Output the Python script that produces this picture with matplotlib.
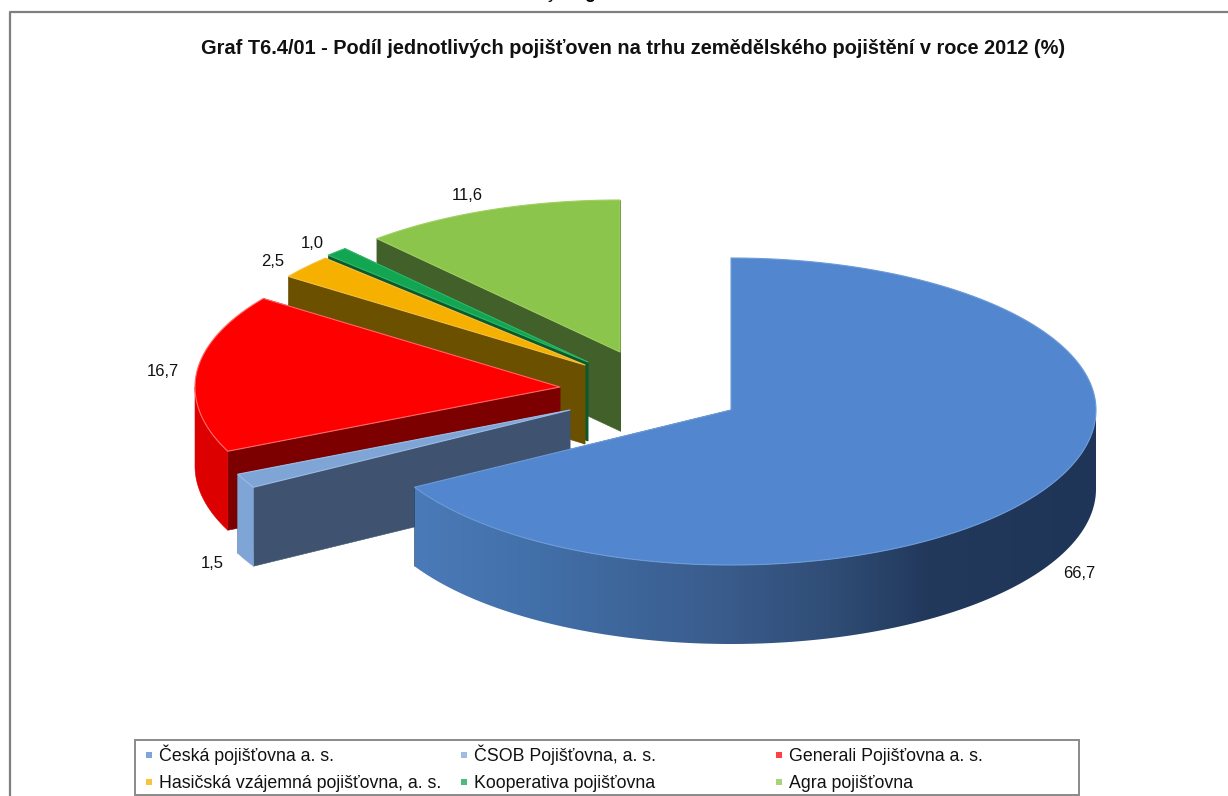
import numpy as np
import matplotlib
matplotlib.use("Agg")
import matplotlib.pyplot as plt
from matplotlib.colors import LinearSegmentedColormap
from matplotlib.patches import Polygon, Rectangle

plt.rcParams['font.family'] = ['Liberation Sans', 'DejaVu Sans']

# data
pojistovny = ["Česká pojišťovna a. s.", "ČSOB Pojišťovna, a. s.", "Generali Pojišťovna a. s.",
              "Hasičská vzájemná pojišťovna, a. s.", "Kooperativa pojišťovna", "Agra pojišťovna"]
podil = [66.7, 1.5, 16.7, 2.5, 1.0, 11.6]
popisky = ["66,7", "1,5", "16,7", "2,5", "1,0", "11,6"]

# colours
top_colors = ["#5287cf", "#7fa4d6", "#fe0000", "#f5b000", "#12a552", "#8cc54b"]
wall_colors = ["#2f4c74", "#3f5370", "#7c0000", "#6b5000", "#0b5a2e", "#41602a"]
outer_colors = [None, "#7fa4d6", "#dc0000", "#6b5000", "#0b5a2e", "#41602a"]
rim_colors = ["#6c9bd8", "#9dbce4", "#ff6a6a", "#f5c040", "#30b868", "#9fd060"]

# layout, in pixels of the picture
apex = [(731, 410), (570, 410), (560, 387), (585, 365), (588, 362), (620, 352)]
label_pos = [(1079, 573), (212, 563), (163, 372), (273, 261), (312, 244), (467, 196)]
RX = 365
RY_BACK = 152
RY_FRONT = 155
DEPTH = 79

blue_wall = LinearSegmentedColormap.from_list(
    "blue_wall", [(0, "#4a7ab8"), (0.2, "#416ea6"), (0.45, "#3a5c8c"),
                  (0.62, "#2f4c74"), (0.75, "#22395c"), (1, "#1f3558")])


def rim_point(center, theta):
    # theta in degrees, clockwise from 12 o'clock
    t = np.radians(theta)
    ry = np.where(np.cos(t) > 0, RY_BACK, RY_FRONT)
    return center[0] + RX * np.sin(t), center[1] - ry * np.cos(t)


def draw_slice(ax, i, start, end):
    c = apex[i]
    theta = np.linspace(start, end, 200)
    x, y = rim_point(c, theta)

    # cut faces, the one lying lower on screen goes last
    faces = sorted([start, end], key=lambda a: rim_point(c, a)[1])
    for a in faces:
        px, py = rim_point(c, a)
        ax.fill([c[0], px, px, c[0]], [c[1], py, py + DEPTH, c[1] + DEPTH],
                color=wall_colors[i], lw=0.4)

    # outer wall, only the front half can be seen
    lo, hi = max(start, 90), min(end, 270)
    if lo < hi:
        th = np.linspace(lo, hi, 240)
        wx, wy = rim_point(c, th)
        outline = np.c_[np.r_[wx, wx[::-1]], np.r_[wy, wy[::-1] + DEPTH]]
        if outer_colors[i] is None:
            # gradient wall: image clipped by the wall outline
            wall = Polygon(outline, closed=True, facecolor="none", edgecolor="none", zorder=1)
            ax.add_patch(wall)
            im = ax.imshow(np.linspace(0, 1, 256)[None, :], cmap=blue_wall, aspect='auto',
                           extent=(wx.min(), wx.max(), wy.max() + DEPTH, wy.min()), zorder=1)
            im.set_clip_path(wall)
            ax.set_xlim(0, 1228)
            ax.set_ylim(796, 0)
        else:
            ax.add_patch(Polygon(outline, closed=True, facecolor=outer_colors[i],
                                 edgecolor=outer_colors[i], lw=0.4, zorder=1))

    ax.fill(np.r_[c[0], x], np.r_[c[1], y], facecolor=top_colors[i],
            edgecolor=rim_colors[i], lw=0.8, joinstyle='round')


fig = plt.figure(figsize=(12.28, 7.96), dpi=100)
ax = fig.add_axes([0, 0, 1, 1])
ax.set_xlim(0, 1228)
ax.set_ylim(796, 0)
ax.axis("off")

# chart frame
ax.plot([10, 10, 1228], [796, 12, 12], color="#7f7f7f", lw=1.6)

# bits of the line above the chart, cut off by the picture edge
ax.text(552, -1.5, "y", ha='center', va='baseline', fontsize=13, color="black")
ax.text(590, -2, "g", ha='center', va='baseline', fontsize=13, color="black", fontweight='bold')

ax.text(633, 48, "Graf T6.4/01 - Podíl jednotlivých pojišťoven na trhu zemědělského pojištění v roce 2012 (%)",
        ha='center', va='center', fontsize=14.4, fontweight='bold', color="#111111")

# slices, clockwise from 12 o'clock, drawn back to front
edges = np.r_[0, np.cumsum(podil)] / sum(podil) * 360
for i in [5, 4, 3, 2, 1, 0]:
    draw_slice(ax, i, edges[i], edges[i + 1])

for txt, (lx, ly) in zip(popisky, label_pos):
    ax.text(lx, ly, txt, ha='center', va='center', fontsize=12, color="#111111")

# legend
ax.add_patch(Rectangle((135, 739.5), 944, 55.5, facecolor="white", edgecolor="#8a8a8a", lw=1.4))
legend_x = [149, 464, 779]
legend_y = [755, 782]
for i, name in enumerate(pojistovny):
    mx = legend_x[i % 3]
    my = legend_y[i // 3]
    ax.add_patch(Rectangle((mx - 3, my - 3), 6, 6, facecolor=top_colors[i], edgecolor="none", alpha=0.75))
    ax.text(mx + 10, my + 6, name, ha='left', va='baseline', fontsize=12.8, color="#111111")

fig.savefig("out.png", dpi=100)
